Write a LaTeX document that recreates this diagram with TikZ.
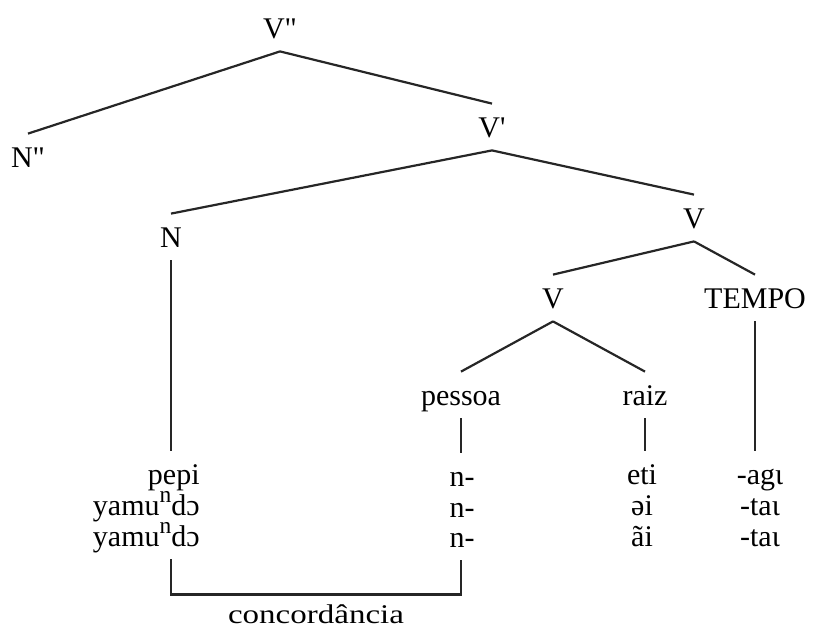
\documentclass[tikz,border=0pt]{standalone}
\usepackage{fontspec}
\usepackage{graphicx}
\usetikzlibrary{calc}
\setmainfont{Liberation Serif}[Ligatures=TeXOff]
\newcommand{\nasn}{\raisebox{0.42em}{\scalebox{0.78}{n}}}
\begin{document}
\begin{tikzpicture}[x=0.5pt,y=-0.5pt,
  lab/.style={inner xsep=0pt,inner ysep=6.5pt,text height=10pt,text depth=0pt,font=\fontsize{15}{18}\selectfont},
  br/.style={line width=1.1pt,draw=black!85},
  plain/.style={inner sep=0pt,font=\fontsize{15}{18}\selectfont}]
\useasboundingbox (0,0) rectangle (813,628);
% category labels
\node[lab] (vpp) at (280,28) {V"};
\node[lab] (npp) at (28,157) {N"};
\node[lab] (vp) at (492,127) {V'};
\node[lab] (n) at (171,237) {N};
\node[lab] (v1) at (694,218) {V};
\node[lab] (v2) at (553,298) {V};
\node[lab] (tempo) at (755,298) {TEMPO};
\node[lab] (pessoa) at (461,395) {pessoa};
\node[lab] (raiz) at (645,395) {raiz};
% leaves
\node[lab,anchor=east] (l1) at (200,474) {pepi};
\node[lab,anchor=east] (l2) at (200,505) {yamu\nasn dɔ};
\node[lab,anchor=east] (l3) at (200,536) {yamu\nasn dɔ};
\node[lab] (p1) at (462,476) {n-};
\node[lab] (p2) at (462,507) {n-};
\node[lab] (p3) at (462,537) {n-};
\node[lab] (r1) at (642,474) {eti};
\node[lab] (r2) at (642,505) {əi};
\node[lab] (r3) at (642,536) {ãi};
\node[lab] (t1) at (760,474) {-agɩ};
\node[lab] (t2) at (760,505) {-taɩ};
\node[lab] (t3) at (760,536) {-taɩ};
% branches
\draw[br] (vpp.south) -- (npp.north);
\draw[br] (vpp.south) -- (vp.north);
\draw[br] (vp.south) -- (n.north);
\draw[br] (vp.south) -- (v1.north);
\draw[br] (v1.south) -- (v2.north);
\draw[br] (v1.south) -- (tempo.north);
\draw[br] (v2.south) -- (pessoa.north);
\draw[br] (v2.south) -- (raiz.north);
\draw[br] (n.south) -- (n.south |- l1.north);
\draw[br] (pessoa.south) -- (pessoa.south |- p1.north);
\draw[br] (raiz.south) -- (raiz.south |- r1.north);
\draw[br] (tempo.south) -- (tempo.south |- t1.north);
% agreement bracket
\coordinate (bl) at (n.south |- l3.south);
\draw[br] (bl) -- ++(0,35) coordinate (bc) -| (pessoa.south |- p3.south);
\node[plain,anchor=base] (conc) at ($(bc)!0.5!(bc -| pessoa.south) + (0,29)$) {\scalebox{1.1}[0.9]{concordância}};
\end{tikzpicture}
\end{document}
